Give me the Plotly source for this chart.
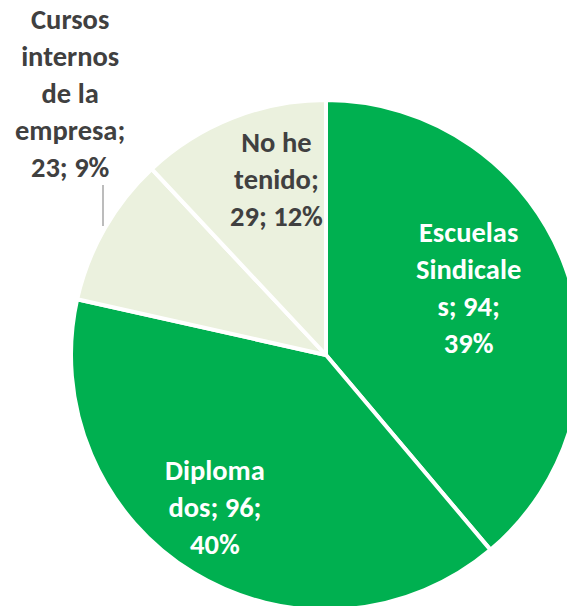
import plotly.graph_objects as go

# ---- data ----
categories = ["Escuelas Sindicales", "Diplomados", "Cursos internos de la empresa", "No he tenido"]
values = [94, 96, 23, 29]
percent_labels = ["39%", "40%", "9%", "12%"]
label_lines = [
    ["Escuelas", "Sindicale", "s; {v};", "{p}"],
    ["Diploma", "dos; {v};", "{p}"],
    ["Cursos", "internos", "de la", "empresa;", "{v}; {p}"],
    ["No he", "tenido;", "{v}; {p}"],
]

# ---- style ----
W, H = 600, 620
slice_colors = ["#00B050", "#00B050", "#EBF1DE", "#EBF1DE"]
text_colors = ["#FFFFFF", "#FFFFFF", "#404040", "#404040"]
# label block centers in pixels (style/layout)
label_px = [(468, 288), (215, 507), (70, 93), (276, 180)]
FONT = "Carlito, Lato, 'Open Sans', sans-serif"
FS = 28.5

# pie box in pixels
cx, cy, R = 326, 355, 255

fig = go.Figure(go.Pie(
    labels=categories,
    values=values,
    sort=False,
    direction="clockwise",
    rotation=0,
    marker=dict(colors=slice_colors, line=dict(color="#FFFFFF", width=4)),
    textinfo="none",
    hoverinfo="label+value+percent",
    domain=dict(x=[(cx - R) / W, (cx + R) / W], y=[1 - (cy + R) / H, 1 - (cy - R) / H]),
    showlegend=False,
))

annotations = []
for lines, v, p, (px, py), tc in zip(label_lines, values, percent_labels, label_px, text_colors):
    txt = "<br>".join(l.format(v=v, p=p) for l in lines)
    annotations.append(dict(
        x=px / W, y=1 - py / H, xref="paper", yref="paper",
        text=txt, showarrow=False, align="center",
        xanchor="center", yanchor="middle",
        font=dict(family=FONT, size=FS, color=tc, weight=800),
    ))

fig.update_layout(
    width=W, height=H,
    margin=dict(l=0, r=0, t=0, b=0),
    paper_bgcolor="#FFFFFF",
    plot_bgcolor="#FFFFFF",
    annotations=annotations,
    shapes=[dict(type="line", xref="paper", yref="paper",
                 x0=103 / W, x1=103 / W, y0=1 - 185 / H, y1=1 - 226 / H,
                 line=dict(color="#A6A6A6", width=1.5))],
)

fig.write_html(
    "out.html",
    config={"displayModeBar": False},
    post_script="document.body.style.margin='0';document.documentElement.style.overflow='hidden';document.body.style.overflow='hidden';",
)
